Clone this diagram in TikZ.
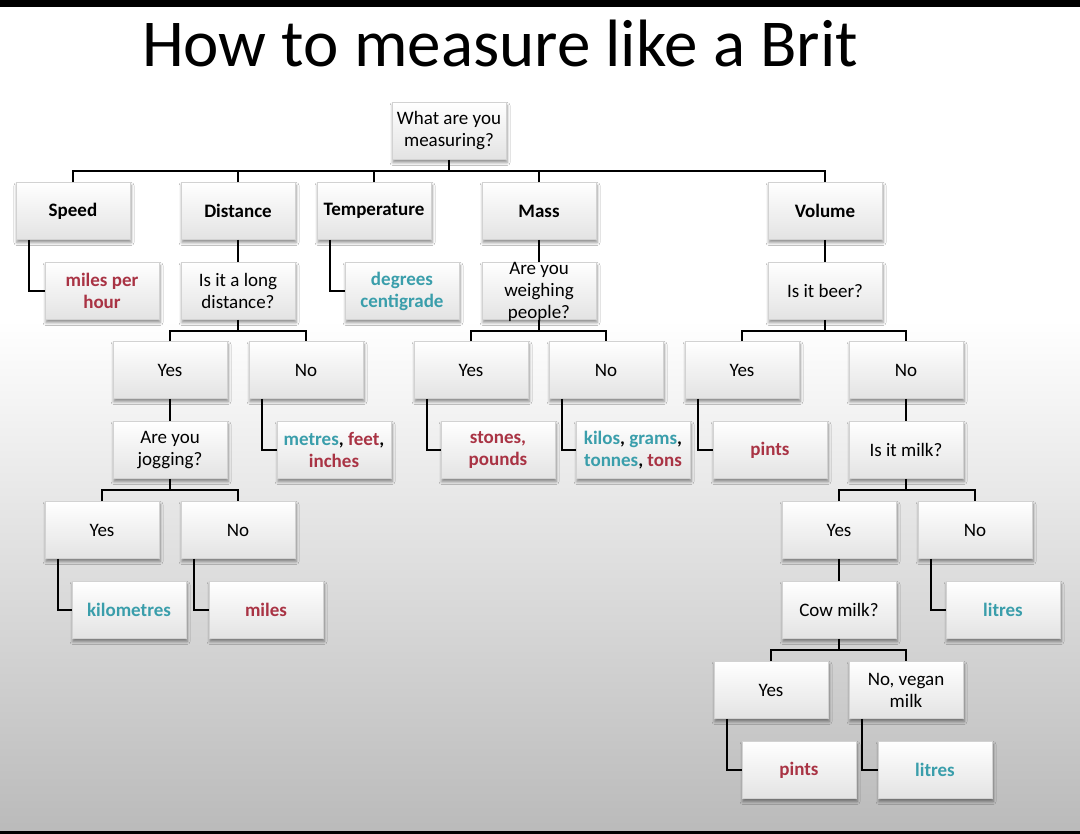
\documentclass[tikz,border=0pt]{standalone}
\usepackage{fontspec}
\setmainfont{Carlito}
\usetikzlibrary{shadows.blur}
\definecolor{ukred}{HTML}{A93344}
\definecolor{ukteal}{HTML}{3A9EAB}
\definecolor{bgbot}{HTML}{BABABA}
\newcommand\boxfont{\fontsize{19}{22}\selectfont}
\newcommand\rd[1]{\textcolor{ukred}{#1}}
\newcommand\tl[1]{\textcolor{ukteal}{#1}}
\tikzset{
  box/.style={draw=gray!35, line width=0.6pt, top color=white, bottom color=black!11,
    minimum width=114pt, minimum height=57pt, inner sep=0pt, align=center, font=\boxfont,
    blur shadow={shadow xshift=1pt, shadow yshift=-3pt, shadow blur radius=3pt, shadow opacity=45}},
  headbox/.style={box, font=\boxfont\bfseries},
  unitbox/.style={box, font=\boxfont\bfseries},
  conn/.style={draw=black, line width=1.8pt},
}
\begin{document}
\begin{tikzpicture}[x=1pt,y=-1pt]
\useasboundingbox (0,0) rectangle (1080,834);
% background
\fill[white] (0,0) rectangle (1080,834);
\shade[top color=white, bottom color=bgbot] (0,320) rectangle (1080,834);
\fill[black] (0,0) rectangle (1080,7);
\fill[black] (0,831) rectangle (1080,834);
% title
\node[anchor=base, inner sep=0pt, font=\fontsize{67}{70}\selectfont] (title) at (500,67) {How to measure like a Brit};
% row 0
\node[box] (root) at (449,131) {What are you\\measuring?};
% row 1
\node[headbox] (speed) at (73,211) {Speed};
\node[headbox] (dist) at (238,211) {Distance};
\node[headbox] (temp) at (374,211) {Temperature};
\node[headbox] (mass) at (539,211) {Mass};
\node[headbox] (vol) at (825,211) {Volume};
% row 2
\node[unitbox] (mph) at (102,291) {\rd{miles per}\\\rd{hour}};
\node[box] (long) at (238,291) {Is it a long\\distance?};
\node[unitbox] (degc) at (402,291) {\tl{degrees}\\\tl{centigrade}};
\node[box] (weigh) at (539,291) {};
\node[align=center, inner sep=0pt, font=\boxfont] (weighT) at (539,292) {Are you\\weighing\\people?};
\node[box] (beer) at (825,291) {Is it beer?};
% row 3
\node[box] (y1) at (170,370) {Yes};
\node[box] (n1) at (306,370) {No};
\node[box] (y2) at (471,370) {Yes};
\node[box] (n2) at (606,370) {No};
\node[box] (y3) at (742,370) {Yes};
\node[box] (n3) at (906,370) {No};
% row 4
\node[box] (jog) at (170,450) {Are you\\jogging?};
\node[unitbox] (mfi) at (334,450) {\tl{metres}, \rd{feet},\\\rd{inches}};
\node[unitbox] (stp) at (498,450) {\rd{stones,}\\\rd{pounds}};
\node[unitbox] (kgt) at (633,450) {\tl{kilos}, \tl{grams},\\\tl{tonnes}, \rd{tons}};
\node[unitbox] (pints1) at (770,450) {\rd{pints}};
\node[box] (milk) at (906,450) {Is it milk?};
% row 5
\node[box] (y4) at (102,530) {Yes};
\node[box] (n4) at (238,530) {No};
\node[box] (y5) at (839,530) {Yes};
\node[box] (n5) at (975,530) {No};
% row 6
\node[unitbox] (km) at (129,610) {\tl{kilometres}};
\node[unitbox] (miles) at (266,610) {\rd{miles}};
\node[box] (cow) at (839,610) {Cow milk?};
\node[unitbox] (litres1) at (1003,610) {\tl{litres}};
% row 7
\node[box] (y6) at (771,690) {Yes};
\node[box] (n6) at (906,690) {No, vegan\\milk};
% row 8
\node[unitbox] (pints2) at (799,770) {\rd{pints}};
\node[unitbox] (litres2) at (935,770) {\tl{litres}};
% connectors: buses
\draw[conn] (root.south) -- ++(0,11.5) coordinate (b0);
\draw[conn] (speed.north) |- (b0) -| (vol.north);
\draw[conn] (dist.north) -- (dist.north |- b0);
\draw[conn] (temp.north) -- (temp.north |- b0);
\draw[conn] (mass.north) -- (mass.north |- b0);
\draw[conn] (dist.south) -- (long.north);
\draw[conn] (mass.south) -- (weigh.north);
\draw[conn] (vol.south) -- (beer.north);
\draw[conn] (long.south) -- ++(0,11) coordinate (b1);
\draw[conn] (y1.north) |- (b1) -| (n1.north);
\draw[conn] (weigh.south) -- ++(0,11) coordinate (b2);
\draw[conn] (y2.north) |- (b2) -| (n2.north);
\draw[conn] (beer.south) -- ++(0,11) coordinate (b3);
\draw[conn] (y3.north) |- (b3) -| (n3.north);
\draw[conn] (y1.south) -- (jog.north);
\draw[conn] (n3.south) -- (milk.north);
\draw[conn] (jog.south) -- ++(0,11) coordinate (b4);
\draw[conn] (y4.north) |- (b4) -| (n4.north);
\draw[conn] (milk.south) -- ++(0,11) coordinate (b5);
\draw[conn] (y5.north) |- (b5) -| (n5.north);
\draw[conn] (y5.south) -- (cow.north);
\draw[conn] (cow.south) -- ++(0,11) coordinate (b6);
\draw[conn] (y6.north) |- (b6) -| (n6.north);
% connectors: elbows
\draw[conn] ([xshift=13pt]speed.south west) |- (mph.west);
\draw[conn] ([xshift=13pt]temp.south west) |- (degc.west);
\draw[conn] ([xshift=13pt]n1.south west) |- (mfi.west);
\draw[conn] ([xshift=13pt]y2.south west) |- (stp.west);
\draw[conn] ([xshift=13pt]n2.south west) |- (kgt.west);
\draw[conn] ([xshift=13pt]y3.south west) |- (pints1.west);
\draw[conn] ([xshift=13pt]y4.south west) |- (km.west);
\draw[conn] ([xshift=13pt]n4.south west) |- (miles.west);
\draw[conn] ([xshift=13pt]n5.south west) |- (litres1.west);
\draw[conn] ([xshift=13pt]y6.south west) |- (pints2.west);
\draw[conn] ([xshift=13pt]n6.south west) |- (litres2.west);
\end{tikzpicture}
\end{document}
